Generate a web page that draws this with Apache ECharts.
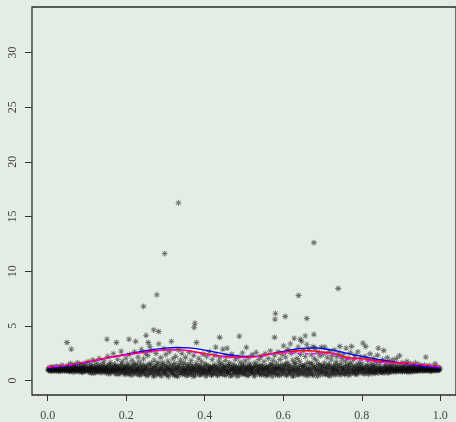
<!DOCTYPE html>
<html>
<head>
<meta charset="utf-8">
<script src="https://cdn.jsdelivr.net/npm/echarts@6/dist/echarts.min.js"></script>
<style>
html,body{margin:0;padding:0;background:#e4ede4;}
#chart{width:456px;height:422px;}
</style>
</head>
<body>
<div id="chart"></div>
<script>
// ---- data ----
const xTicks = [0, 0.2, 0.4, 0.6, 0.8, 1.0];
const yTicks = [0, 5, 10, 15, 20, 25, 30];

const bandPoints = [
[0.001,1.02],[0.003,0.91],[0.004,1.18],[0.006,0.97],[0.008,1.09],[0.009,0.85],[0.011,1.25],[0.013,1.01],[0.015,0.93],[0.016,1.14],[0.018,0.88],[0.020,1.06],[0.022,1.31],[0.024,0.95],[0.025,1.12],[0.027,0.82],[0.029,1.03],[0.031,1.21],[0.033,0.90],[0.035,1.08],[0.036,1.40],[0.038,0.96],[0.040,1.15],[0.042,0.86],[0.044,1.00],[0.046,1.27],[0.048,0.92],[0.049,1.11],
[0.051,0.98],[0.053,1.36],[0.055,0.84],[0.057,1.12],[0.058,1.55],[0.060,0.93],[0.062,1.05],[0.064,0.78],[0.066,1.23],[0.067,1.44],[0.069,0.97],[0.071,1.09],[0.073,0.88],[0.075,1.31],[0.076,1.62],[0.078,1.01],[0.080,0.83],[0.082,1.18],[0.084,0.95],[0.085,1.48],[0.087,1.07],[0.089,0.76],[0.091,1.26],[0.093,0.99],[0.095,1.58],[0.096,0.87],[0.098,1.14],
[0.101,1.03],[0.103,1.72],[0.104,0.81],[0.106,1.21],[0.108,0.94],[0.110,1.45],[0.112,0.68],[0.113,1.10],[0.115,1.88],[0.117,0.97],[0.119,1.33],[0.121,0.85],[0.122,1.06],[0.124,1.61],[0.126,0.74],[0.128,1.17],[0.130,0.92],[0.131,2.02],[0.133,1.28],[0.135,0.80],[0.137,1.02],[0.139,1.53],[0.140,0.89],[0.142,1.14],[0.144,1.79],[0.146,0.71],[0.148,1.24],[0.149,0.96],
[0.151,1.08],[0.153,2.21],[0.154,0.62],[0.156,1.37],[0.158,0.90],[0.160,1.66],[0.161,1.01],[0.163,0.77],[0.165,1.19],[0.167,2.45],[0.169,0.86],[0.170,1.50],[0.172,1.04],[0.174,0.58],[0.176,1.27],[0.178,1.93],[0.179,0.93],[0.181,1.12],[0.183,0.70],[0.185,1.41],[0.187,2.68],[0.188,0.99],[0.190,1.74],[0.192,0.82],[0.194,1.15],[0.196,0.55],[0.197,1.30],[0.199,2.05],
[0.201,0.95],[0.203,1.58],[0.205,0.66],[0.206,1.20],[0.208,2.37],[0.210,0.88],[0.212,1.07],[0.214,0.48],[0.215,1.83],[0.217,1.33],[0.219,0.79],[0.221,2.62],[0.223,1.00],[0.224,1.46],[0.226,0.61],[0.228,1.13],[0.230,2.14],[0.232,0.92],[0.233,1.69],[0.235,0.52],[0.237,1.26],[0.239,2.85],[0.241,0.84],[0.242,1.04],[0.244,1.97],[0.246,0.69],[0.248,1.39],[0.249,2.50],
[0.251,1.11],[0.253,0.43],[0.255,2.28],[0.256,0.90],[0.258,1.52],[0.260,3.12],[0.262,0.65],[0.263,1.18],[0.265,2.74],[0.267,0.97],[0.269,0.37],[0.271,1.86],[0.272,1.29],[0.274,0.76],[0.276,2.46],[0.278,1.02],[0.280,0.55],[0.281,1.64],[0.283,3.35],[0.285,0.88],[0.287,1.22],[0.288,2.08],[0.290,0.41],[0.292,1.43],[0.294,0.99],[0.296,2.90],[0.297,0.72],[0.299,1.35],
[0.301,2.36],[0.303,0.60],[0.305,1.09],[0.306,1.77],[0.308,0.35],[0.310,2.63],[0.312,0.94],[0.313,1.25],[0.315,3.57],[0.317,0.70],[0.319,1.98],[0.321,1.05],[0.322,0.46],[0.324,1.55],[0.326,2.21],[0.328,0.83],[0.330,1.14],[0.331,0.38],[0.333,2.79],[0.335,1.31],[0.337,0.67],[0.338,1.88],[0.340,0.98],[0.342,2.48],[0.344,0.53],[0.346,1.20],[0.347,1.66],[0.349,0.87],
[0.351,2.12],[0.353,1.03],[0.354,0.42],[0.356,1.47],[0.358,0.78],[0.360,2.55],[0.362,1.16],[0.363,0.57],[0.365,1.81],[0.367,0.93],[0.369,1.28],[0.371,0.36],[0.372,2.30],[0.374,1.07],[0.376,0.69],[0.378,1.59],[0.379,3.47],[0.381,0.85],[0.383,1.19],[0.385,2.02],[0.387,0.49],[0.388,1.38],[0.390,0.96],[0.392,1.72],[0.394,0.62],[0.396,2.41],[0.397,1.11],[0.399,0.80],
[0.401,1.52],[0.403,0.39],[0.405,2.18],[0.406,1.00],[0.408,0.73],[0.410,1.34],[0.412,2.64],[0.413,0.88],[0.415,1.17],[0.417,0.51],[0.419,1.91],[0.421,1.06],[0.422,0.64],[0.424,1.43],[0.426,2.33],[0.428,3.05],[0.430,0.95],[0.431,1.24],[0.433,0.44],[0.435,1.70],[0.437,0.82],[0.438,2.06],[0.440,1.13],[0.442,0.58],[0.444,1.57],[0.446,2.87],[0.447,0.91],[0.449,1.30],
[0.451,0.47],[0.453,1.84],[0.454,1.02],[0.456,2.25],[0.457,2.96],[0.458,0.71],[0.460,1.36],[0.462,0.89],[0.463,1.61],[0.465,0.40],[0.467,1.15],[0.469,2.40],[0.471,0.97],[0.472,1.49],[0.474,0.63],[0.476,1.08],[0.478,1.95],[0.479,0.81],[0.481,1.26],[0.483,0.38],[0.485,2.15],[0.487,1.04],[0.488,0.75],[0.490,1.67],[0.492,0.92],[0.494,1.21],[0.496,2.52],[0.497,0.56],[0.499,1.40],
[0.501,0.86],[0.503,1.78],[0.505,1.10],[0.506,3.02],[0.508,0.45],[0.510,1.32],[0.512,2.08],[0.513,0.95],[0.515,1.54],[0.517,0.68],[0.519,1.19],[0.521,2.35],[0.522,0.83],[0.524,1.05],[0.526,0.39],[0.528,1.63],[0.530,1.24],[0.531,2.57],[0.533,0.77],[0.535,1.41],[0.537,0.99],[0.538,1.90],[0.540,0.54],[0.542,1.16],[0.544,2.22],[0.546,0.90],[0.547,1.35],[0.549,0.61],
[0.551,1.72],[0.553,1.07],[0.554,2.46],[0.556,0.43],[0.558,1.28],[0.560,0.85],[0.562,1.99],[0.563,1.14],[0.565,0.66],[0.567,2.70],[0.569,1.46],[0.571,0.93],[0.572,0.37],[0.574,1.81],[0.576,1.21],[0.578,2.29],[0.579,0.74],[0.581,1.03],[0.583,1.58],[0.585,0.50],[0.587,2.61],[0.588,1.31],[0.590,0.88],[0.592,1.92],[0.594,1.09],[0.596,0.60],[0.597,2.38],[0.599,1.44],
[0.601,3.17],[0.603,0.79],[0.605,1.25],[0.606,2.14],[0.608,0.46],[0.610,1.62],[0.612,2.83],[0.613,1.01],[0.615,0.70],[0.617,1.37],[0.618,3.35],[0.620,2.47],[0.622,0.91],[0.624,1.86],[0.626,0.40],[0.628,1.18],[0.630,2.66],[0.631,1.52],[0.633,0.82],[0.635,2.01],[0.637,1.09],[0.638,3.05],[0.640,0.57],[0.642,1.74],[0.644,2.39],[0.646,0.96],[0.647,3.57],[0.649,1.29],
[0.651,2.72],[0.653,0.64],[0.655,1.41],[0.656,2.18],[0.658,0.98],[0.660,3.28],[0.662,1.66],[0.663,0.44],[0.665,2.90],[0.667,1.12],[0.669,0.80],[0.671,2.34],[0.672,1.55],[0.674,0.53],[0.676,3.10],[0.678,1.23],[0.679,2.02],[0.681,2.96],[0.683,0.87],[0.685,1.79],[0.687,0.39],[0.688,2.58],[0.690,1.06],[0.692,1.46],[0.694,2.24],[0.696,0.72],[0.697,3.04],[0.699,1.33],
[0.701,0.94],[0.703,2.43],[0.705,1.61],[0.706,3.05],[0.708,0.58],[0.710,1.20],[0.712,2.11],[0.713,0.85],[0.715,1.48],[0.717,2.67],[0.719,0.41],[0.721,1.08],[0.722,1.89],[0.724,2.30],[0.726,0.76],[0.728,1.34],[0.730,2.79],[0.731,1.02],[0.733,0.52],[0.735,1.70],[0.737,2.19],[0.738,0.92],[0.740,1.27],[0.742,2.52],[0.744,3.11],[0.746,0.66],[0.747,1.57],[0.749,1.99],
[0.751,0.98],[0.753,2.37],[0.754,1.15],[0.756,0.55],[0.758,1.78],[0.760,2.96],[0.762,0.84],[0.763,1.39],[0.765,2.06],[0.767,0.47],[0.769,1.11],[0.771,2.55],[0.772,1.62],[0.774,3.11],[0.776,0.73],[0.778,1.25],[0.779,1.93],[0.781,0.90],[0.783,2.28],[0.785,0.60],[0.787,1.44],[0.788,1.05],[0.790,2.61],[0.792,0.79],[0.794,1.68],[0.796,1.18],[0.797,2.14],[0.799,0.95],
[0.801,1.52],[0.803,3.42],[0.805,0.63],[0.806,1.09],[0.808,2.20],[0.810,3.11],[0.812,0.86],[0.813,1.33],[0.815,1.87],[0.817,0.57],[0.819,1.14],[0.821,2.44],[0.822,0.97],[0.824,1.58],[0.826,0.71],[0.828,1.24],[0.830,2.02],[0.831,0.88],[0.833,1.40],[0.835,0.66],[0.837,1.75],[0.838,1.04],[0.840,2.31],[0.842,2.96],[0.844,0.93],[0.846,1.20],[0.847,1.63],[0.849,0.78],
[0.851,1.06],[0.853,1.91],[0.854,0.72],[0.856,2.74],[0.858,1.29],[0.860,0.89],[0.862,1.47],[0.863,1.01],[0.865,2.08],[0.867,0.68],[0.869,1.16],[0.871,1.72],[0.872,0.94],[0.874,1.35],[0.876,0.77],[0.878,1.12],[0.879,1.88],[0.881,0.99],[0.883,1.53],[0.885,0.83],[0.887,1.24],[0.888,2.00],[0.890,0.91],[0.892,1.08],[0.894,1.41],[0.896,2.26],[0.897,0.86],[0.899,1.19],
[0.901,1.02],[0.903,1.63],[0.904,0.79],[0.906,1.21],[0.908,0.93],[0.910,1.44],[0.912,1.08],[0.913,0.84],[0.915,1.74],[0.917,0.97],[0.919,1.30],[0.921,0.75],[0.922,1.11],[0.924,1.55],[0.926,0.90],[0.928,1.18],[0.930,1.01],[0.931,1.38],[0.933,0.82],[0.935,1.09],[0.937,1.61],[0.938,0.95],[0.940,1.25],[0.942,0.87],[0.944,1.05],[0.946,1.47],[0.947,0.92],[0.949,1.16],
[0.951,1.00],[0.953,1.33],[0.954,0.86],[0.956,1.12],[0.958,0.94],[0.960,1.41],[0.962,1.03],[0.963,2.14],[0.965,0.89],[0.967,1.20],[0.969,0.97],[0.971,1.08],[0.972,1.36],[0.974,0.84],[0.976,1.14],[0.978,0.93],[0.979,1.27],[0.981,1.01],[0.983,0.88],[0.985,1.17],[0.987,1.53],[0.988,0.96],[0.990,1.09],[0.992,0.91],[0.994,1.22],[0.996,1.04],[0.997,0.95],[0.999,1.13]
];

const corePoints = [
[0.002,0.96],[0.005,1.07],[0.007,0.89],[0.010,1.13],[0.012,0.99],[0.014,1.05],[0.017,0.87],[0.019,1.16],[0.021,0.94],[0.023,1.03],[0.026,1.19],[0.028,0.91],[0.030,0.98],[0.032,1.10],[0.034,0.84],[0.037,1.04],[0.039,0.93],[0.041,1.22],[0.043,0.97],[0.045,1.06],[0.047,0.88],
[0.050,1.15],[0.052,0.90],[0.054,1.02],[0.056,0.81],[0.059,1.20],[0.061,0.95],[0.063,1.10],[0.065,0.87],[0.068,1.04],[0.070,0.79],[0.072,1.25],[0.074,0.93],[0.077,1.08],[0.079,0.85],[0.081,1.14],[0.083,0.98],[0.086,0.76],[0.088,1.19],[0.090,0.92],[0.092,1.06],[0.094,0.83],[0.097,1.30],[0.099,0.95],
[0.102,0.88],[0.105,1.17],[0.107,0.72],[0.109,1.01],[0.111,1.29],[0.114,0.86],[0.116,1.08],[0.118,0.66],[0.120,1.21],[0.123,0.94],[0.125,1.12],[0.127,0.78],[0.129,1.38],[0.132,0.90],[0.134,1.05],[0.136,0.69],[0.138,1.24],[0.141,0.97],[0.143,0.81],[0.145,1.33],[0.147,1.00],
[0.150,0.74],[0.152,1.16],[0.155,0.92],[0.157,1.42],[0.159,0.63],[0.162,1.09],[0.164,0.85],[0.166,1.27],[0.168,0.98],[0.171,0.69],[0.173,1.35],[0.175,1.02],[0.177,0.80],[0.180,1.21],[0.182,0.57],[0.184,1.06],[0.186,0.90],[0.189,1.47],[0.191,0.74],[0.193,1.12],[0.195,0.96],[0.198,0.62],
[0.200,1.26],[0.202,0.84],[0.204,1.09],[0.207,0.55],[0.209,1.38],[0.211,0.97],[0.213,0.71],[0.216,1.18],[0.218,0.88],[0.220,1.52],[0.222,0.60],[0.225,1.03],[0.227,0.80],[0.229,1.31],[0.231,0.93],[0.234,0.50],[0.236,1.14],[0.238,0.75],[0.240,1.44],[0.243,0.99],[0.245,0.58],[0.247,1.22],
[0.250,0.86],[0.252,1.08],[0.254,0.52],[0.257,1.35],[0.259,0.78],[0.261,0.97],[0.264,1.57],[0.266,0.63],[0.268,1.12],[0.270,0.84],[0.273,0.46],[0.275,1.26],[0.277,0.92],[0.279,1.45],[0.282,0.70],[0.284,1.04],[0.286,0.55],[0.289,1.19],[0.291,0.87],[0.293,1.62],[0.295,0.65],[0.298,1.02],
[0.300,0.80],[0.302,1.30],[0.304,0.48],[0.307,1.10],[0.309,0.91],[0.311,1.50],[0.314,0.62],[0.316,1.02],[0.318,0.77],[0.320,1.37],[0.323,0.53],[0.325,1.15],[0.327,0.95],[0.329,0.44],[0.332,1.24],[0.334,0.86],[0.336,1.58],[0.339,0.66],[0.341,1.07],[0.343,0.81],[0.345,1.40],[0.348,0.58],
[0.350,1.00],[0.352,0.73],[0.355,1.29],[0.357,0.51],[0.359,1.11],[0.361,0.88],[0.364,1.46],[0.366,0.64],[0.368,1.04],[0.370,0.79],[0.373,1.22],[0.375,0.47],[0.377,0.97],[0.380,1.36],[0.382,0.69],[0.384,1.08],[0.386,0.90],[0.389,0.55],[0.391,1.27],[0.393,0.82],[0.395,1.05],[0.398,0.61],
[0.400,1.18],[0.402,0.86],[0.404,1.41],[0.407,0.56],[0.409,1.03],[0.411,0.77],[0.414,1.25],[0.416,0.92],[0.418,0.48],[0.420,1.14],[0.423,0.83],[0.425,1.32],[0.427,0.67],[0.429,1.00],[0.432,0.52],[0.434,1.20],[0.436,0.88],[0.439,1.47],[0.441,0.71],[0.443,1.06],[0.445,0.60],[0.448,1.15],
[0.450,0.85],[0.452,1.28],[0.455,0.55],[0.457,1.01],[0.459,0.78],[0.461,1.38],[0.464,0.64],[0.466,0.96],[0.468,1.18],[0.470,0.49],[0.473,1.07],[0.475,0.83],[0.477,1.33],[0.480,0.61],[0.482,0.99],[0.484,0.74],[0.486,1.23],[0.489,0.53],[0.491,1.10],[0.493,0.87],[0.495,1.43],[0.498,0.68],
[0.500,1.04],[0.502,0.59],[0.504,1.21],[0.507,0.80],[0.509,0.98],[0.511,0.48],[0.514,1.30],[0.516,0.89],[0.518,1.08],[0.520,0.63],[0.523,1.17],[0.525,0.76],[0.527,1.40],[0.529,0.54],[0.532,1.01],[0.534,0.85],[0.536,1.24],[0.539,0.66],[0.541,0.95],[0.543,1.35],[0.545,0.50],[0.548,1.12],
[0.550,0.79],[0.552,1.03],[0.555,0.58],[0.557,1.27],[0.559,0.92],[0.561,0.47],[0.564,1.14],[0.566,0.83],[0.568,1.44],[0.570,0.62],[0.573,1.05],[0.575,0.76],[0.577,1.31],[0.580,0.53],[0.582,0.97],[0.584,1.19],[0.586,0.69],[0.589,1.09],[0.591,0.45],[0.593,1.36],[0.595,0.86],[0.598,1.02],
[0.600,0.60],[0.602,1.22],[0.604,0.89],[0.607,1.48],[0.609,0.51],[0.611,1.07],[0.614,0.78],[0.616,1.29],[0.619,0.64],[0.621,1.00],[0.623,0.43],[0.625,1.17],[0.627,0.85],[0.629,1.55],[0.632,0.68],[0.634,1.04],[0.636,0.49],[0.639,1.26],[0.641,0.92],[0.643,0.72],[0.645,1.39],[0.648,0.56],
[0.650,1.10],[0.652,0.81],[0.654,1.33],[0.657,0.47],[0.659,1.02],[0.661,0.75],[0.664,1.20],[0.666,0.59],[0.668,0.96],[0.670,1.51],[0.673,0.70],[0.675,1.06],[0.677,0.45],[0.680,1.28],[0.682,0.88],[0.684,1.13],[0.686,0.62],[0.689,1.42],[0.691,0.79],[0.693,1.00],[0.695,0.52],[0.698,1.19],
[0.700,0.84],[0.702,1.34],[0.704,0.57],[0.707,1.05],[0.709,0.77],[0.711,1.25],[0.714,0.48],[0.716,0.99],[0.718,1.40],[0.720,0.66],[0.723,1.12],[0.725,0.86],[0.727,0.55],[0.729,1.21],[0.732,0.93],[0.734,1.46],[0.736,0.63],[0.739,1.03],[0.741,0.80],[0.743,1.30],[0.745,0.50],[0.748,1.08],
[0.750,0.74],[0.752,1.19],[0.755,0.90],[0.757,0.58],[0.759,1.36],[0.761,0.97],[0.764,0.68],[0.766,1.14],[0.768,0.83],[0.770,1.42],[0.773,0.61],[0.775,1.04],[0.777,0.88],[0.780,1.26],[0.782,0.70],[0.784,1.00],[0.786,0.54],[0.789,1.17],[0.791,0.92],[0.793,1.33],[0.795,0.66],[0.798,1.07],
[0.800,0.81],[0.802,1.23],[0.804,0.96],[0.807,0.62],[0.809,1.12],[0.811,0.87],[0.814,1.37],[0.816,0.72],[0.818,1.02],[0.820,0.79],[0.823,1.20],[0.825,0.93],[0.827,0.64],[0.829,1.29],[0.832,0.98],[0.834,0.76],[0.836,1.10],[0.839,0.85],[0.841,1.34],[0.843,0.68],[0.845,1.05],[0.848,0.90],
[0.850,0.74],[0.852,1.17],[0.855,0.95],[0.857,0.70],[0.859,1.08],[0.861,0.84],[0.864,1.25],[0.866,0.99],[0.868,0.76],[0.870,1.13],[0.873,0.88],[0.875,1.31],[0.877,0.97],[0.880,0.80],[0.882,1.06],[0.884,0.91],[0.886,1.20],[0.889,0.78],[0.891,1.02],[0.893,0.87],[0.895,1.15],[0.898,0.96],
[0.900,0.83],[0.902,1.10],[0.905,0.94],[0.907,1.25],[0.909,0.86],[0.911,1.03],[0.914,0.79],[0.916,1.14],[0.918,0.92],[0.920,1.07],[0.923,0.85],[0.925,1.19],[0.927,0.97],[0.929,0.82],[0.932,1.12],[0.934,0.93],[0.936,1.03],[0.939,0.86],[0.941,1.16],[0.943,0.98],[0.945,0.90],[0.948,1.08],
[0.950,0.92],[0.952,1.06],[0.955,0.97],[0.957,1.18],[0.959,0.88],[0.961,1.04],[0.964,0.95],[0.966,1.11],[0.968,0.90],[0.970,1.02],[0.973,0.96],[0.975,1.09],[0.977,0.87],[0.980,1.05],[0.982,0.99],[0.984,1.13],[0.986,0.92],[0.989,1.03],[0.991,0.97],[0.993,1.08],[0.995,0.94],[0.998,1.01]
];

const outlierPoints = [
[0.049,3.47],[0.060,2.87],[0.151,3.78],[0.175,3.47],[0.207,3.78],[0.224,3.57],[0.244,6.77],[0.2506,4.13],[0.256,3.47],[0.270,4.62],[0.278,7.83],[0.2826,4.48],[0.298,11.6],[0.333,16.25],[0.373,4.85],[0.375,5.24],[0.438,3.95],[0.488,4.05],[0.578,3.95],[0.579,5.61],[0.580,6.14],[0.605,5.85],[0.628,3.87],[0.639,7.77],[0.643,3.78],[0.656,4.08],[0.660,5.67],[0.678,4.22],[0.678,12.6],[0.740,8.41]
];

const curveX   = [0.00,0.05,0.10,0.15,0.20,0.25,0.30,0.33,0.36,0.40,0.45,0.48,0.52,0.55,0.58,0.62,0.65,0.68,0.70,0.73,0.76,0.80,0.85,0.90,0.95,1.00];
const blueY    = [1.13,1.35,1.65,2.05,2.40,2.72,2.96,3.02,2.98,2.78,2.42,2.25,2.19,2.30,2.52,2.80,2.93,2.98,2.92,2.75,2.50,2.20,1.87,1.60,1.35,1.13];
const redY     = [1.22,1.40,1.70,2.05,2.35,2.60,2.80,2.82,2.72,2.45,2.20,2.12,2.15,2.30,2.50,2.65,2.74,2.68,2.60,2.48,2.10,2.00,1.74,1.62,1.45,1.28];
const magentaY = [1.22,1.40,1.68,2.03,2.33,2.58,2.77,2.78,2.66,2.38,2.14,2.08,2.12,2.26,2.44,2.50,2.46,2.44,2.44,2.40,1.96,1.88,1.65,1.55,1.44,1.25];

// ---- chart ----
const asterisk = 'path://M-0.7,-5L0.7,-5L0.7,5L-0.7,5Z M-5,-0.7L5,-0.7L5,0.7L-5,0.7Z M-4.0,-3.0L-3.0,-4.0L4.0,3.0L3.0,4.0Z M3.0,-4.0L4.0,-3.0L-3.0,4.0L-4.0,3.0Z';
const pair = (ys) => curveX.map((x, i) => [x, ys[i]]);
const labelFont = {fontFamily: 'Liberation Serif', fontSize: 12, color: '#444'};

const chart = echarts.init(document.getElementById('chart'), null, {renderer: 'canvas'});
chart.setOption({
  animation: false,
  backgroundColor: '#e4ede4',
  grid: {left: 32, top: 7, right: -5, bottom: 27, show: true, borderColor: '#2b2b2b', borderWidth: 1.3, backgroundColor: 'transparent'},
  xAxis: {
    type: 'value', min: -0.04, max: 1.04,
    axisLine: {show: false, onZero: false},
    splitLine: {show: false},
    axisTick: {show: true, customValues: xTicks, length: 6, lineStyle: {color: '#333', width: 1}},
    axisLabel: Object.assign({customValues: xTicks, margin: 15, formatter: v => v.toFixed(1)}, labelFont)
  },
  yAxis: {
    type: 'value', min: -1.33, max: 34.16,
    axisLine: {show: false, onZero: false},
    splitLine: {show: false},
    axisTick: {show: true, customValues: yTicks, length: 7, lineStyle: {color: '#333', width: 1}},
    axisLabel: Object.assign({customValues: yTicks, margin: 13, rotate: 90}, labelFont)
  },
  series: [
    {type: 'scatter', data: bandPoints.concat(corePoints, outlierPoints), symbol: asterisk, symbolSize: 6,
     itemStyle: {color: 'rgba(10,10,10,0.68)'}, silent: true},
    {type: 'line', data: pair(blueY), smooth: 0.4, symbol: 'none', lineStyle: {color: '#0000ff', width: 1.4}},
    {type: 'line', data: pair(redY), smooth: 0.4, symbol: 'none', lineStyle: {color: '#ff0000', width: 1.4}},
    {type: 'line', data: pair(magentaY), smooth: 0.4, symbol: 'none', lineStyle: {color: '#ff00ff', width: 1.4, type: [4, 3]}}
  ]
});
</script>
</body>
</html>
